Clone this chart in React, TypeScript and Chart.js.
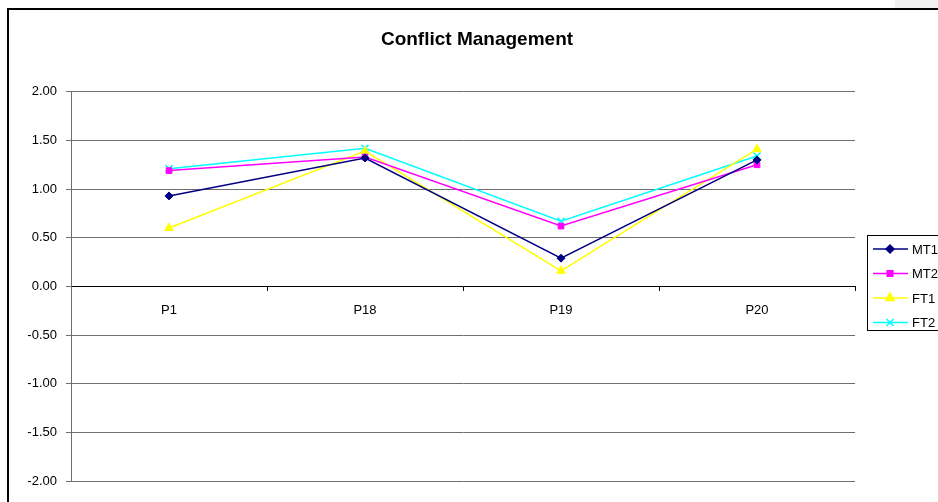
import React, { useEffect, useRef } from "react";
import { Chart, registerables } from "chart.js";
import { drawPoint } from "chart.js/helpers";

Chart.register(...registerables);

const categories = ["P1", "P18", "P19", "P20"];
const mt1 = [0.93, 1.32, 0.29, 1.3];
const mt2 = [1.19, 1.33, 0.62, 1.25];
const ft1 = [0.6, 1.39, 0.16, 1.41];
const ft2 = [1.21, 1.42, 0.67, 1.34];
const seriesNames = ["MT1", "MT2", "FT1", "FT2"];

const FONT = "'Liberation Sans', Arial, sans-serif";

const legendPlugin = {
  id: "customLegend",
  afterDraw(chart: any) {
    const ctx = chart.ctx;
    const x0 = 867;
    const y0 = 235;
    const h = 95;
    ctx.save();
    ctx.strokeStyle = "#000";
    ctx.lineWidth = 1;
    ctx.strokeRect(x0 + 0.5, y0 + 0.5, 200, h);
    chart.data.datasets.forEach((ds: any, i: number) => {
      const y = y0 + 14 + i * 24.5;
      ctx.strokeStyle = ds.borderColor;
      ctx.lineWidth = 1.5;
      ctx.beginPath();
      ctx.moveTo(873, y);
      ctx.lineTo(908, y);
      ctx.stroke();
      ctx.fillStyle = ds.pointBackgroundColor;
      ctx.strokeStyle = ds.pointBorderColor;
      drawPoint(ctx, { pointStyle: ds.pointStyle, radius: ds.pointRadius, rotation: 0, borderWidth: ds.pointStyle === "crossRot" ? 1.5 : 1 }, 890, y);
      ctx.fillStyle = "#000";
      ctx.font = `13px ${FONT}`;
      ctx.textAlign = "left";
      ctx.textBaseline = "middle";
      ctx.fillText(ds.label, 912, y + 1);
    });
    ctx.restore();
  },
};

export default function App() {
  const ref = useRef<HTMLCanvasElement | null>(null);
  useEffect(() => {
    document.body.style.margin = "0";
    const mk = (label: string, data: number[], color: string, style: string, r: number) => ({
      label,
      data,
      yAxisID: "y",
      borderColor: color,
      backgroundColor: color,
      pointBackgroundColor: color,
      pointBorderColor: color,
      pointStyle: style,
      pointRadius: r,
      pointBorderWidth: style === "crossRot" ? 1.5 : 1,
      borderWidth: 1.5,
      tension: 0,
    });
    const chart = new Chart(ref.current as HTMLCanvasElement, {
      type: "line",
      data: {
        labels: categories,
        datasets: [
          mk(seriesNames[0], mt1, "#000080", "rectRot", 4),
          mk(seriesNames[1], mt2, "#ff00ff", "rect", 4),
          mk(seriesNames[2], ft1, "#ffff00", "triangle", 5),
          mk(seriesNames[3], ft2, "#00ffff", "crossRot", 5),
        ],
      },
      options: {
        animation: false,
        responsive: false,
        maintainAspectRatio: false,
        layout: { padding: { left: 16, right: 0, top: 0, bottom: 21 } },
        plugins: {
          legend: { display: false },
          tooltip: { enabled: false },
          title: {
            display: true,
            text: "Conflict Management",
            color: "#000",
            font: { family: FONT, size: 19, weight: "bold" },
            padding: { top: 28, bottom: 41 },
          },
        },
        scales: {
          x: {
            type: "category",
            position: { y: 0 } as any,
            offset: true,
            grid: {
              display: true,
              drawOnChartArea: false,
              drawTicks: true,
              tickLength: 4,
              color: "#000",
              offset: true,
            },
            border: { display: true, color: "#000", width: 1 },
            ticks: {
              color: "#000",
              font: { family: FONT, size: 13 },
              padding: 12,
              maxRotation: 0,
            },
          },
          y: {
            position: "left",
            min: -2,
            max: 2,
            afterFit(scale: any) {
              scale.width = 55;
            },
            ticks: {
              stepSize: 0.5,
              color: "#000",
              font: { family: FONT, size: 13 },
              padding: 9,
              callback: (v: any) => Number(v).toFixed(2),
            },
            grid: { color: "#6e6e6e", tickLength: 5, lineWidth: 1 },
            border: { display: true, color: "#6e6e6e", width: 1 },
          },
          ySpace: {
            position: "right",
            display: true,
            grid: { display: false, drawOnChartArea: false },
            border: { display: false },
            ticks: { display: false },
            afterFit(scale: any) {
              scale.width = 83;
            },
          },
        },
      },
      plugins: [legendPlugin],
    });
    return () => chart.destroy();
  }, []);

  return (
    <div style={{ position: "absolute", left: 0, top: 0, width: 938, height: 502, background: "#fff", overflow: "hidden" }}>
      <div style={{ position: "absolute", left: 895, top: 0, width: 43, height: 8, background: "#f0f0f0" }} />
      <div
        style={{
          position: "absolute",
          left: 7,
          top: 8,
          width: 960,
          height: 520,
          borderTop: "2px solid #000",
          borderLeft: "2px solid #000",
          boxSizing: "border-box",
        }}
      />
      <canvas ref={ref} width={938} height={502} style={{ position: "absolute", left: 0, top: 0, width: 938, height: 502 }} />
    </div>
  );
}
